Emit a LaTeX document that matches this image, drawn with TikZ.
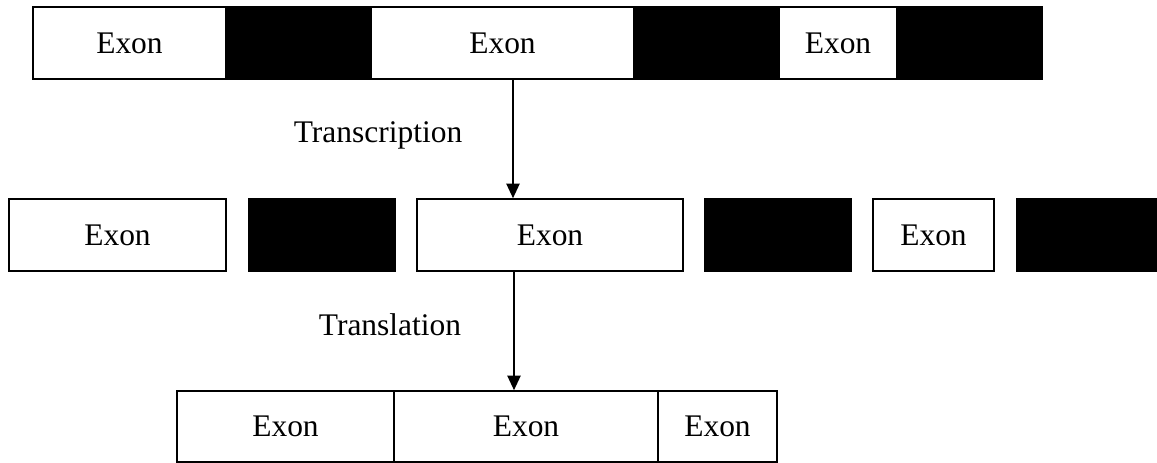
\documentclass[tikz,border=0pt]{standalone}
\usepackage{fontspec}
\setmainfont{Liberation Serif}
\usetikzlibrary{arrows.meta}
\begin{document}
\begin{tikzpicture}[x=0.75pt,y=-0.75pt,
  box/.style={draw=black, line width=1.2pt, inner sep=0pt, minimum height=54pt,
    font=\fontsize{23.6}{28}\selectfont},
  exonbox/.style={box, fill=white},
  intron/.style={box, fill=black},
  lbl/.style={inner sep=0pt, font=\fontsize{23.6}{28}\selectfont},
  arr/.style={line width=1.2pt, -{Triangle[width=10pt,length=11pt]}}]
\useasboundingbox (0,0) rectangle (1157,463);
% row 1: gene
\node[exonbox, minimum width=144.75pt] (e11) at (129.5,43) {Exon};
\node[intron,  minimum width=108.75pt] (b11) at (298.5,43) {};
\node[exonbox, minimum width=197.25pt] (e12) at (502.5,43) {Exon};
\node[intron,  minimum width=108.75pt] (b12) at (706.5,43) {};
\node[exonbox, minimum width=88.5pt]   (e13) at (838,43) {Exon};
\node[intron,  minimum width=108.75pt] (b13) at (969.5,43) {};
% row 2: transcript pieces
\node[exonbox, minimum width=162.75pt] (e21) at (117.5,235) {Exon};
\node[intron,  minimum width=109.5pt]  (b21) at (322,235) {};
\node[exonbox, minimum width=199.5pt]  (e22) at (550,235) {Exon};
\node[intron,  minimum width=109.5pt]  (b22) at (778,235) {};
\node[exonbox, minimum width=90.75pt]  (e23) at (933.5,235) {Exon};
\node[intron,  minimum width=109.5pt]  (b23) at (1090,235) {};
% row 3: spliced
\node[exonbox, minimum width=162.75pt, minimum height=53.25pt] (e31) at (285.5,426.5) {Exon};
\node[exonbox, minimum width=198pt,    minimum height=53.25pt] (e32) at (526,426.5) {Exon};
\node[exonbox, minimum width=89.25pt,  minimum height=53.25pt] (e33) at (717.5,426.5) {Exon};
% labels
\node[lbl] (tr1) at (378,135) {Transcription};
\node[lbl] (tr2) at (390,325) {Translation};
% arrows
\path (e12.south) ++(10.5,0) coordinate (a1);
\draw[arr] (a1) -- (a1 |- e22.north);
\path (e22.south) ++(-36,0) coordinate (a2);
\draw[arr] (a2) -- (a2 |- e32.north);
\end{tikzpicture}
\end{document}
